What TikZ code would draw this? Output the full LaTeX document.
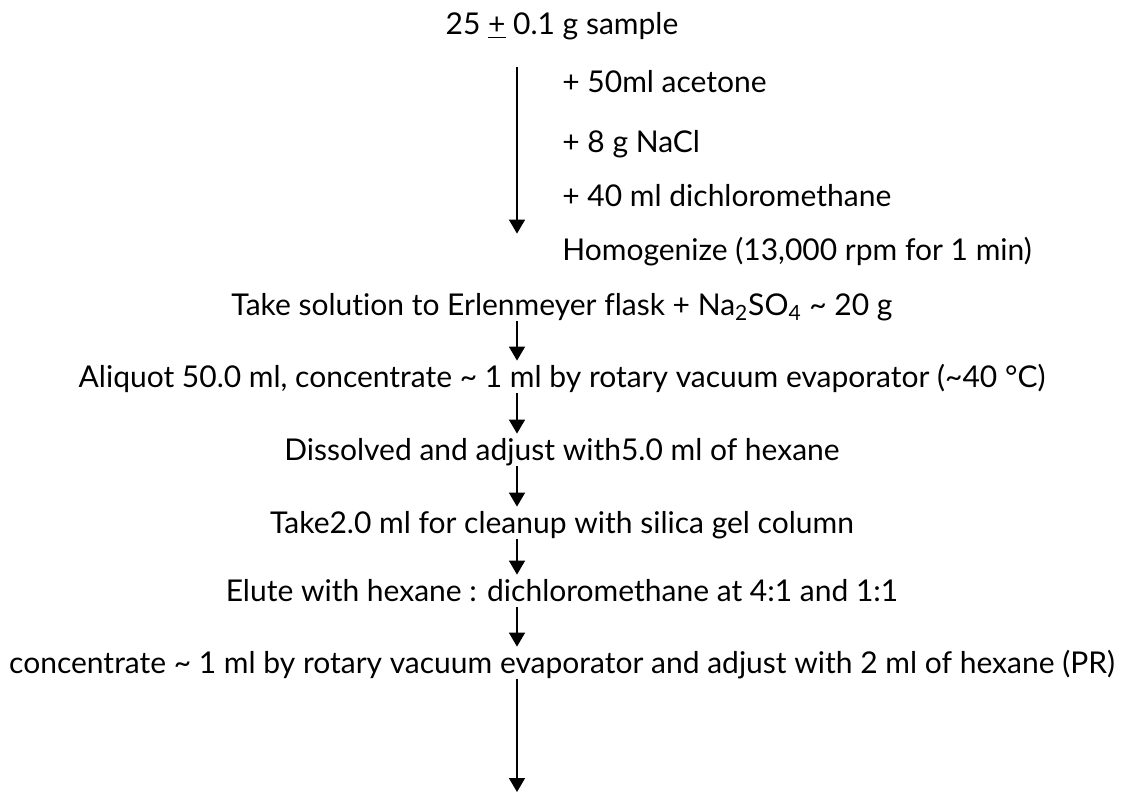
\documentclass[tikz,border=0pt]{standalone}
\usepackage{fontspec}
\setmainfont[Ligatures={NoCommon}]{Lato}
\usetikzlibrary{arrows.meta,positioning}

\begin{document}
\begin{tikzpicture}[x=0.5pt,y=-0.5pt,
        stage/.style={inner sep=0pt,text height=13pt,text depth=3pt,font=\fontsize{15}{18}\selectfont},
        flow/.style={-{Triangle[width=8pt,length=7pt]},line width=0.8pt}]
        \useasboundingbox (0,0) rectangle (1124,792);
        \coordinate (axis) at (517,0);
        \coordinate (tail) at (517,792);
        % main column
        \node[stage] (sample) at (562,25) {25 \underline{+} 0.1 g sample};
        \node[stage] (flask) at (562,305) {Take solution to Erlenmeyer flask + Na\textsubscript{2}SO\textsubscript{4} \textasciitilde{} 20 g};
        \node[stage] (aliquot) at (562,377) {Aliquot 50.0 ml, concentrate \textasciitilde{} 1 ml by rotary vacuum evaporator (\textasciitilde 40 °C)};
        \node[stage] (dissolve) at (562,450) {Dissolved and adjust with5.0 ml of hexane};
        \node[stage] (cleanup) at (562,523) {Take2.0 ml for cleanup with silica gel column};
        \node[stage] (elute) at (562,591) {Elute with hexane : dichloromethane at 4:1 and 1:1};
        \node[stage] (conc) at (562,663) {concentrate \textasciitilde{} 1 ml by rotary vacuum evaporator and adjust with 2 ml of hexane (PR)};
        % side list
        \node[stage,anchor=west] (acetone) at (562,83) {+ 50ml acetone};
        \node[stage,anchor=west] (nacl) at (562,143) {+ 8 g NaCl};
        \node[stage,anchor=west] (dcm) at (562,196) {+ 40 ml dichloromethane};
        \node[stage,anchor=west] (homog) at (562,250) {Homogenize (13,000 rpm for 1 min)};
        % arrows
        \draw[flow,shorten <=13pt] (sample.south -| axis) -- (homog.north -| axis);
        \draw[flow] (flask.south -| axis) -- (aliquot.north -| axis);
        \draw[flow] (aliquot.south -| axis) -- (dissolve.north -| axis);
        \draw[flow] (dissolve.south -| axis) -- (cleanup.north -| axis);
        \draw[flow] (cleanup.south -| axis) -- (elute.north -| axis);
        \draw[flow] (elute.south -| axis) -- (conc.north -| axis);
        \draw[flow] (conc.south -| axis) -- (tail);
\end{tikzpicture}
\end{document}
